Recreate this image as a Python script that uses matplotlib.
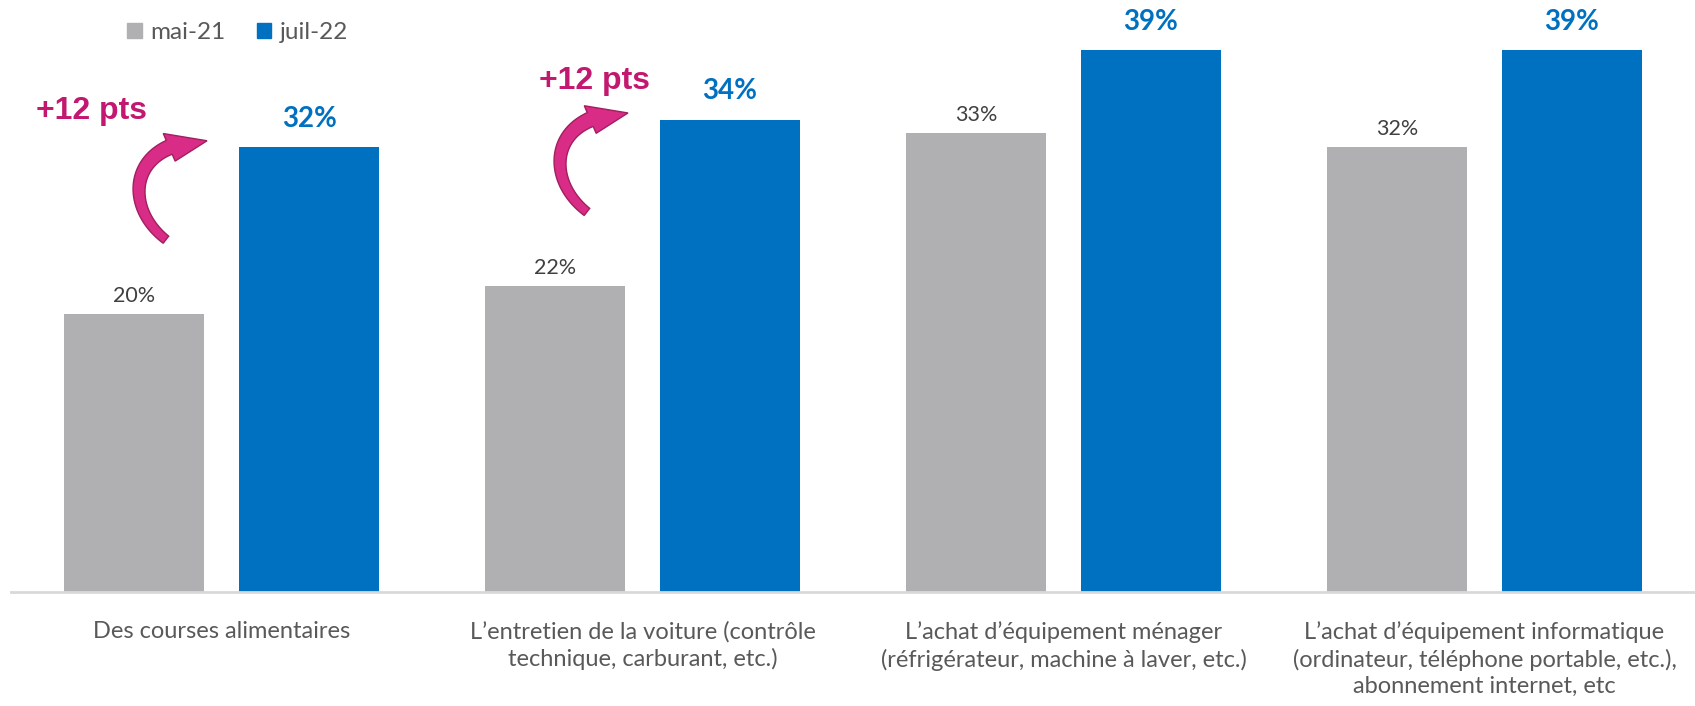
import numpy as np
import matplotlib
matplotlib.use("Agg")
import matplotlib.pyplot as plt
from matplotlib.patches import Patch, Polygon

# Données
categories = [
    "Des courses alimentaires",
    "L\u2019entretien de la voiture (contrôle\ntechnique, carburant, etc.)",
    "L\u2019achat d\u2019équipement ménager\n(réfrigérateur, machine à laver, etc.)",
    "L\u2019achat d\u2019équipement informatique\n(ordinateur, téléphone portable, etc.),\nabonnement internet, etc",
]
series_names = ["mai-21", "juil-22"]
mai21 = [20, 22, 33, 32]
juil22 = [32, 34, 39, 39]
evolution_labels = ["+12 pts", "+12 pts", None, None]

# placement des libellés "+12 pts" (décalage x en catégorie, décalage y en points de %)
label_pos = [(-0.308, 2.6), (-0.114, 2.8), None, None]
# forme de la flèche courbe (bezier cubique, relatif à la queue)
arrow_shape = [(0, 0), (-0.107, 2.52), (-0.083, 7.19), (0.0975, 7.12)]

gray = "#B0B0B2"
blue = "#0070C0"
pink = "#C2186F"
text_gray = "#595959"

plt.rcParams['font.family'] = ['Lato', 'DejaVu Sans']

fig = plt.figure(figsize=(16.95, 7.06), dpi=100)
ax = fig.add_axes([0.0065, 0.1615, 0.9935, 0.8385])

x = np.arange(len(categories))
w = 0.332
off = 0.208

ax.bar(x - off, mai21, w, color=gray)
ax.bar(x + off, juil22, w, color=blue)

for xi, v in zip(x, mai21):
    ax.annotate(f"{v}%", (xi - off, v), xytext=(0, 6), textcoords="offset points",
                ha="center", va="bottom", fontsize=15.5, color="#404040")
for xi, v in zip(x, juil22):
    ax.annotate(f"{v}%", (xi + off, v), xytext=(0, 11), textcoords="offset points",
                ha="center", va="bottom", fontsize=20, fontweight="bold", color=blue)

ax.set_xlim(-0.5, 3.5)
ax.set_ylim(0, 42.6)


def curved_arrow(ctrl_data, tail_w=9, body_w=15, head_w=30, t_head=0.8):
    # flèche courbe dessinée en pixels puis ramenée en coordonnées data
    P = ax.transData.transform(np.array(ctrl_data))
    t = np.linspace(0, t_head, 60)[:, None]
    B = ((1 - t) ** 3 * P[0] + 3 * (1 - t) ** 2 * t * P[1]
         + 3 * (1 - t) * t ** 2 * P[2] + t ** 3 * P[3])
    dB = (3 * (1 - t) ** 2 * (P[1] - P[0]) + 6 * (1 - t) * t * (P[2] - P[1])
          + 3 * t ** 2 * (P[3] - P[2]))
    n = np.column_stack([-dB[:, 1], dB[:, 0]])
    n /= np.linalg.norm(n, axis=1)[:, None]
    half = np.linspace(tail_w, body_w, len(t))[:, None] / 2
    left = B + n * half
    right = B - n * half
    head = [B[-1] + n[-1] * head_w / 2, P[3], B[-1] - n[-1] * head_w / 2]
    poly = np.vstack([left, head, right[::-1]])
    return ax.transData.inverted().transform(poly)


# flèches courbes "+12 pts"
for i, lab in enumerate(evolution_labels):
    if lab is None:
        continue
    g, b = mai21[i], juil22[i]
    tx, ty = x[i] - 0.132, g + 5.35
    ctrl = [(tx + dx, ty + dy) for dx, dy in arrow_shape]
    ax.add_patch(Polygon(curved_arrow(ctrl), closed=True, facecolor="#D82C86",
                         edgecolor="#A31E60", linewidth=1))
    dx, dy = label_pos[i]
    ax.text(x[i] + dx, b + dy, lab, ha="center", va="center",
            fontsize=23, fontweight="bold", color=pink, family=['Liberation Sans', 'DejaVu Sans'])

ax.set_yticks([])
ax.set_xticks(x)
ax.set_xticklabels(categories, fontsize=17, color=text_gray, linespacing=1.3)
ax.tick_params(axis="x", length=0, pad=21)
for s in ["top", "right", "left"]:
    ax.spines[s].set_visible(False)
ax.spines["bottom"].set_color("#D9D9D9")
ax.spines["bottom"].set_linewidth(2)

handles = [Patch(color=gray), Patch(color=blue)]
fig.legend(handles, series_names, loc="upper left", bbox_to_anchor=(0.062, 1.0), ncol=2,
           frameon=False, fontsize=17.5, labelcolor=text_gray, handlelength=0.6,
           handleheight=0.6, handletextpad=0.35, columnspacing=1.3)

fig.savefig("out.png", dpi=100)
